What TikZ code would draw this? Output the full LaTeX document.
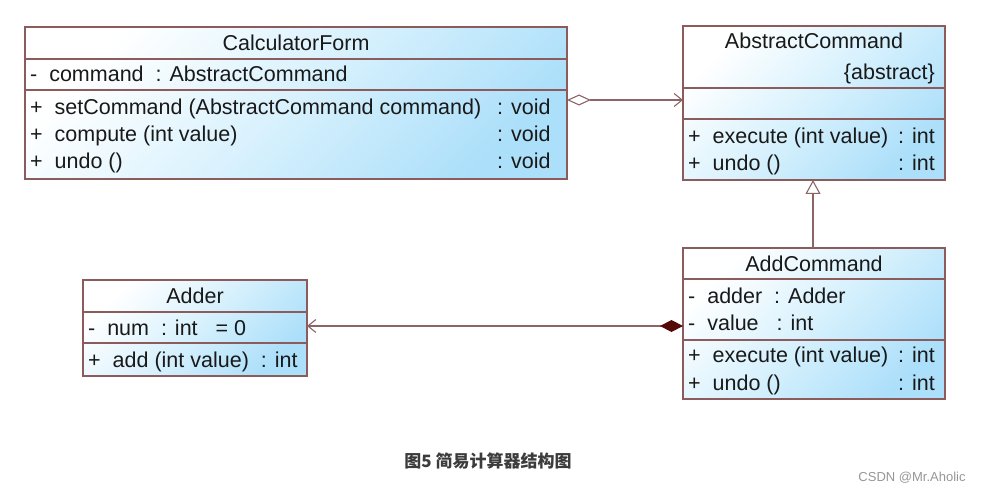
\documentclass[tikz,border=0pt]{standalone}
\usepackage{fontspec}
\setmainfont{Liberation Sans}
\newfontfamily\cjk{Noto Sans CJK SC}
\usetikzlibrary{arrows.meta}
\definecolor{bordc}{RGB}{140,92,92}
\definecolor{linec}{RGB}{140,100,100}
\definecolor{cfill}{RGB}{172,223,250}
\definecolor{cmid}{RGB}{215,241,253}
\definecolor{darkdia}{RGB}{85,10,10}
\definecolor{captc}{RGB}{60,60,60}
\definecolor{wmc}{RGB}{150,150,150}
\tikzset{
  cls/.style={draw=bordc, line width=1.1pt, top color=white, bottom color=cfill, middle color=cmid, shading angle=45, anchor=north west, inner sep=0pt, outer sep=0pt},
  sep/.style={draw=bordc, line width=1.1pt},
  txt/.style={font=\fontsize{21.5}{22}\selectfont, inner sep=0pt, anchor=base west, text=black!90, yshift=-1.5pt},
  ttl/.style={font=\fontsize{21.5}{22}\selectfont, inner sep=0pt, anchor=base, text=black!90, yshift=-1pt},
  conn/.style={draw=linec, line width=1.1pt},
}
\begin{document}
\begin{tikzpicture}[x=1pt, y=-1pt]
\useasboundingbox (0,0) rectangle (987,494);
% CalculatorForm
\node[cls, minimum width=542pt, minimum height=152pt] (calc) at (25,27) {};
\draw[sep] (25,59) -- (567,59);
\draw[sep] (25,90) -- (567,90);
\node[ttl] (calct) at (296,50) {CalculatorForm};
\node[txt] (calca) at (30,80) {-\ \ command\ \ : AbstractCommand};
\node[txt] (calcm1) at (30,113) {+\ \ setCommand (AbstractCommand command)};
\node[txt] (calcm2) at (30,140) {+\ \ compute (int value)};
\node[txt] (calcm3) at (30,167) {+\ \ undo ()};
\node[txt] (calcr1) at (497,113) {: void};
\node[txt] (calcr2) at (497,140) {: void};
\node[txt] (calcr3) at (497,167) {: void};
% AbstractCommand
\node[cls, minimum width=262pt, minimum height=154pt] (abs) at (683,26) {};
\draw[sep] (683,88) -- (945,88);
\draw[sep] (683,119) -- (945,119);
\node[ttl] (abst) at (814,48) {AbstractCommand};
\node[txt, anchor=base east] (absa) at (935,78) {\{abstract\}};
\node[txt] (absm1) at (688,142) {+\ \ execute (int value)};
\node[txt] (absm2) at (688,169) {+\ \ undo ()};
\node[txt] (absr1) at (898,142) {: int};
\node[txt] (absr2) at (898,169) {: int};
% AddCommand
\node[cls, minimum width=262pt, minimum height=151pt] (add) at (683,248) {};
\draw[sep] (683,279) -- (945,279);
\draw[sep] (683,340) -- (945,340);
\node[ttl] (addt) at (814,270) {AddCommand};
\node[txt] (adda1) at (688,302) {-\ \ adder\ \ : Adder};
\node[txt] (adda2) at (688,329) {-\ \ value\ \ \ : int};
\node[txt] (addm1) at (688,361) {+\ \ execute (int value)};
\node[txt] (addm2) at (688,389) {+\ \ undo ()};
\node[txt] (addr1) at (898,361) {: int};
\node[txt] (addr2) at (898,389) {: int};
% Adder
\node[cls, minimum width=224pt, minimum height=96pt] (adder) at (83,280) {};
\draw[sep] (83,312) -- (307,312);
\draw[sep] (83,343) -- (307,343);
\node[ttl] (addert) at (195,302) {Adder};
\node[txt] (addera) at (88,334) {-\ \ num\ \ : int\ \ \ = 0};
\node[txt] (adderm) at (88,366) {+\ \ add (int value)\ \ : int};
% connectors
\draw[conn, {Diamond[open, length=24pt, width=11pt, line width=1.1pt, fill=white]}-{Straight Barb[length=8pt, width=13pt, line width=1.1pt]}]
  (calc.east |- 0,100) -- (abs.west |- 0,100);
\draw[conn, -{Triangle[open, length=14pt, width=15pt, line width=1.1pt, fill=white]}]
  (add.north -| 813,0) -- (abs.south -| 813,0);
\draw[conn, {Diamond[length=23pt, width=12pt, fill=darkdia, color=darkdia]}-{Straight Barb[length=8pt, width=13pt, line width=1.1pt]}]
  (add.west |- 0,326) -- (adder.east |- 0,326);
% caption
\node[font=\cjk\bfseries\fontsize{17}{18}\selectfont, text=captc, inner sep=0pt] (cap) at (488,461) {图5\ 简易计算器结构图};
\node[font=\fontsize{13}{14}\selectfont, text=wmc, inner sep=0pt] (wm) at (912,478) {CSDN @Mr.Aholic};
\end{tikzpicture}
\end{document}
